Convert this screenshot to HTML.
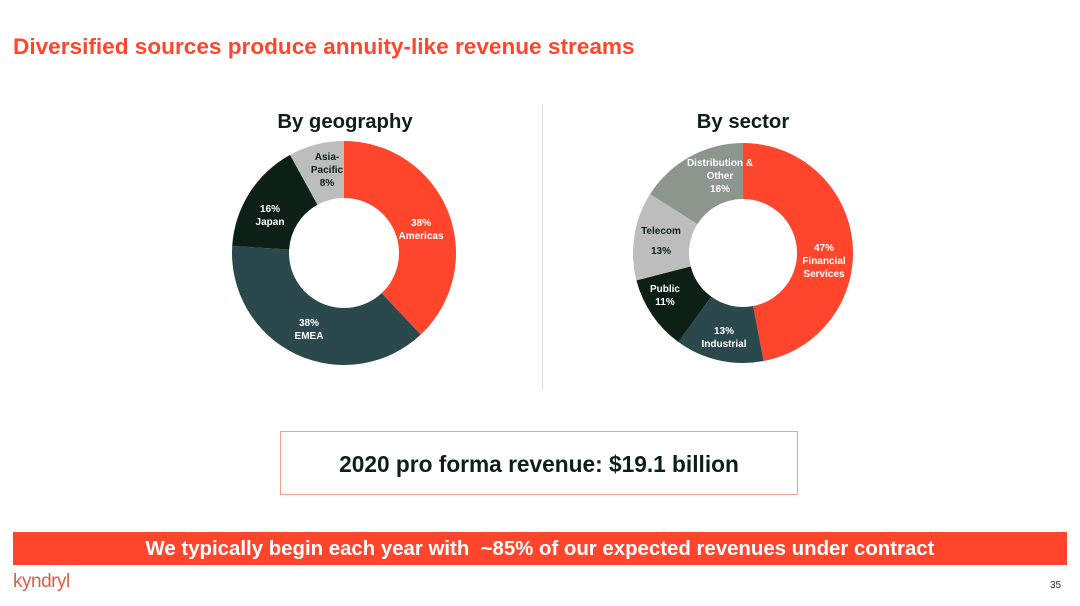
<!DOCTYPE html>
<html><head><meta charset="utf-8"><style>
body{margin:0;width:1080px;height:606px;background:#fff;font-family:"Liberation Sans",sans-serif;position:relative;overflow:hidden}
.abs{position:absolute}
</style></head><body>
<div class="abs" style="left:13px;top:34px;font-size:22.6px;font-weight:bold;color:#ff462d">Diversified sources produce annuity-like revenue streams</div>
<div class="abs" style="left:245px;top:111px;width:200px;text-align:center;font-size:20.3px;font-weight:bold;color:#0c2016">By geography</div>
<div class="abs" style="left:643px;top:111px;width:200px;text-align:center;font-size:20.3px;font-weight:bold;color:#0c2016">By sector</div>
<div class="abs" style="left:542px;top:104px;width:1px;height:286px;background:#e0e0e0"></div>
<svg class="abs" style="left:0;top:0" width="1080" height="606" id="charts"></svg>
<div class="abs" style="left:280px;top:431px;width:518px;height:64px;border:1px solid #f4a090;box-sizing:border-box;text-align:center;line-height:64px;font-size:22.7px;font-weight:bold;color:#0c2016">2020 pro forma revenue: $19.1 billion</div>
<div class="abs" style="left:13px;top:532px;width:1054px;height:33px;background:#ff462d;color:#fff;text-align:center;line-height:35px;font-size:20.4px;font-weight:bold;white-space:nowrap">We typically begin each year with &nbsp;~85% of our expected revenues under contract</div>
<div class="abs" style="left:13px;top:571px;font-size:19px;color:#d9604c;letter-spacing:-0.5px">kyndryl</div>
<div class="abs" style="left:1050px;top:580px;font-size:10px;color:#333">35</div>
<script>
const geoCategories=["Americas","EMEA","Japan","Asia-Pacific"];
const geoValues=[38,38,16,8];
const geoColors=["#ff462d","#2b484d","#0c2016","#bdbdbd"];
const secCategories=["Financial Services","Industrial","Public","Telecom","Distribution & Other"];
const secValues=[47,13,11,13,16];
const secColors=["#ff462d","#2b484d","#0c2016","#bdbdbd","#8c968c"];
const NS="http://www.w3.org/2000/svg";
const svg=document.getElementById('charts');
function donut(cx,cy,R,r,vals,cols,cats,prefix){
  const tot=vals.reduce((a,b)=>a+b,0);let a0=0;
  vals.forEach((v,i)=>{
    const a1=a0+v/tot*2*Math.PI;
    const p=(a,rr)=>[cx+rr*Math.sin(a),cy-rr*Math.cos(a)];
    const [x1,y1]=p(a0,R),[x2,y2]=p(a1,R),[x3,y3]=p(a1,r),[x4,y4]=p(a0,r);
    const lg=(a1-a0)>Math.PI?1:0;
    const path=document.createElementNS(NS,'path');
    path.setAttribute('d',`M${x1},${y1}A${R},${R} 0 ${lg} 1 ${x2},${y2}L${x3},${y3}A${r},${r} 0 ${lg} 0 ${x4},${y4}Z`);
    path.setAttribute('fill',cols[i]);
    
    
    svg.appendChild(path);
    a0=a1;
  });
}
donut(344,253,112,55,geoValues,geoColors,geoCategories,'geo');
donut(743,253,110,54,secValues,secColors,secCategories,'sector');
function label(x,y,lines,col){
  const t=document.createElementNS(NS,'text');
  t.setAttribute('text-anchor','middle');t.setAttribute('font-size','10');t.setAttribute('font-weight','bold');
  t.setAttribute('fill',col);t.setAttribute('font-family','Liberation Sans, sans-serif');
  
  
  lines.forEach((l,k)=>{const s=document.createElementNS(NS,'tspan');s.setAttribute('x',x);s.setAttribute('y',y+k*13);s.textContent=l;t.appendChild(s);});
  svg.appendChild(t);
}
label(421,226,[geoValues[0]+'%','Americas'],'#fff');
label(309,326,[geoValues[1]+'%','EMEA'],'#fff');
label(270,212,[geoValues[2]+'%','Japan'],'#fff');
label(327,160,['Asia-','Pacific',geoValues[3]+'%'],'#0c2016');
label(824,251,[secValues[0]+'%','Financial','Services'],'#fff');
label(724,334,[secValues[1]+'%','Industrial'],'#fff');
label(665,292,['Public',secValues[2]+'%'],'#fff');
label(661,234,['Telecom'],'#0c2016');
label(661,254,[secValues[3]+'%'],'#0c2016');
label(720,166,['Distribution &','Other',secValues[4]+'%'],'#fff');
</script>
</body></html>
